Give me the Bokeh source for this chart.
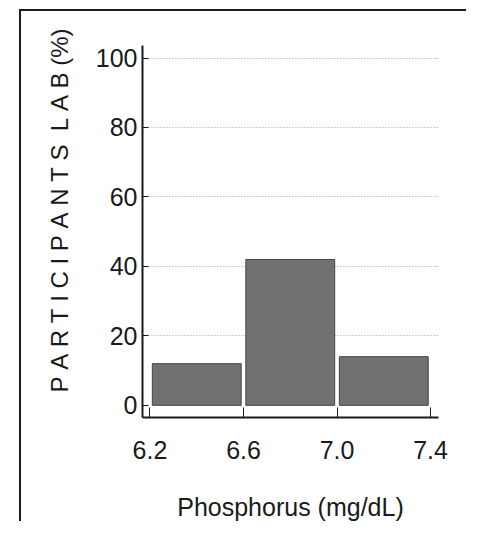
from bokeh.plotting import figure
from bokeh.models import Range1d, FixedTicker, Title, Spacer
from bokeh.layouts import row, column
from bokeh.embed import file_html
from bokeh.resources import INLINE

# data
bin_left = [6.2, 6.6, 7.0]
bin_right = [6.6, 7.0, 7.4]
participants_pct = [12, 42, 14]
x_ticks = [6.2, 6.6, 7.0, 7.4]
x_tick_labels = ["6.2", "6.6", "7.0", "7.4"]
y_ticks = [0, 20, 40, 60, 80, 100]
y_label_words = ["PARTICIPANTS", "LAB", "(%)"]
x_label = "Phosphorus (mg/dL)"

mids = [(a + b) / 2 for a, b in zip(bin_left, bin_right)]
NB = "\u00a0"
spaced_y_label = (NB * 2).join([NB.join(y_label_words[0]), NB.join(y_label_words[1]) + NB + y_label_words[2]])

p = figure(width=456, height=517, output_backend="svg", toolbar_location=None,
           x_range=Range1d(6.168, 7.434), y_range=Range1d(-3.5, 103.6),
           min_border_left=130, min_border_right=30, min_border_top=39, min_border_bottom=103)
p.outline_line_color = None
p.border_fill_alpha = 0
p.styles = {
    "border-left": "2px solid transparent",
    "border-top": "2px solid transparent",
    "background-color": "white",
    "background-image": "linear-gradient(#1c1c1c, #1c1c1c), linear-gradient(#1c1c1c, #1c1c1c)",
    "background-size": "2px 100%, 100% 2px",
    "background-position": "7px 3px, 7px 3px",
    "background-repeat": "no-repeat",
}

p.vbar(x=mids, top=participants_pct, bottom=0, width=0.38,
       fill_color="#727172", line_color="#444444", line_width=1)

FONT = "Liberation Sans"
ink = "#1a1a1a"

p.xaxis.ticker = FixedTicker(ticks=x_ticks)
p.xaxis.major_label_overrides = {t: l for t, l in zip(x_ticks, x_tick_labels)}
p.yaxis.ticker = FixedTicker(ticks=y_ticks)
for ax in (p.xaxis, p.yaxis):
    ax.axis_line_width = 2
    ax.axis_line_color = ink
    ax.major_tick_line_color = ink
    ax.major_tick_line_width = 1
    ax.minor_tick_line_color = None
    ax.major_label_text_font = FONT
    ax.major_label_text_font_size = "25px"
    ax.major_label_text_color = ink
p.xaxis.major_tick_in = 10
p.xaxis.major_tick_out = 0
p.xaxis.major_label_standoff = 23
p.yaxis.major_tick_in = 6
p.yaxis.major_tick_out = 0
p.yaxis.major_label_standoff = 5

p.xaxis.axis_label = x_label
p.xaxis.axis_label_text_font = FONT
p.xaxis.axis_label_text_font_size = "25px"
p.xaxis.axis_label_text_font_style = "normal"
p.xaxis.axis_label_text_color = ink
p.xaxis.axis_label_standoff = 31

p.add_layout(Title(text=spaced_y_label, align="left", offset=25, standoff=40,
                   text_font=FONT, text_font_size="24px",
                   text_font_style="normal", text_color=ink), "left")

p.xgrid.grid_line_color = None
p.ygrid.ticker = FixedTicker(ticks=y_ticks[1:])
p.ygrid.grid_line_color = "#9a9a9a"
p.ygrid.grid_line_dash = "1 2"
p.ygrid.grid_line_width = 1

layout = row(Spacer(width=10), column(Spacer(height=4), p))
open("out.html", "w").write(file_html(layout, INLINE))
